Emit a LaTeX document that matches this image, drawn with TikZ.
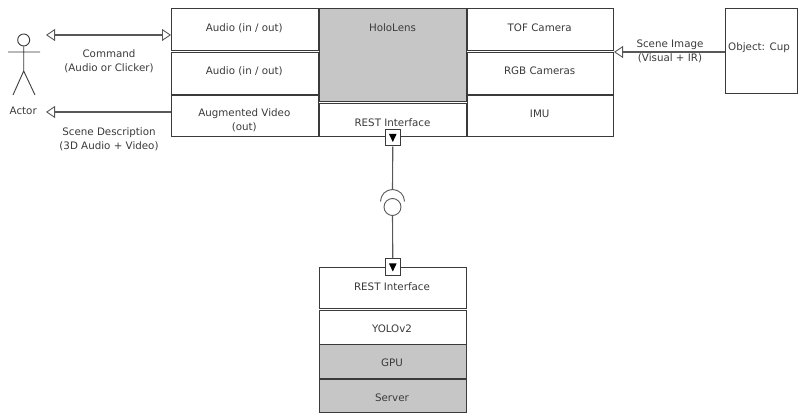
\documentclass[tikz,border=0pt]{standalone}
\usepackage{fontspec}
\setmainfont{DejaVu Sans}
\usetikzlibrary{arrows.meta,calc}
\definecolor{ink}{HTML}{3A3A3A}
\definecolor{fillg}{HTML}{C6C6C6}
\tikzset{
  x=1pt,y=-1pt,
  box/.style={draw=ink,line width=1pt,fill=white,anchor=north west,inner sep=0pt},
  greybox/.style={box,fill=fillg},
  lbl/.style={inner sep=0pt,align=center,font=\fontsize{10.3}{14}\selectfont,text=ink},
  wire/.style={draw=ink!85,line width=1.1pt},
  opentip/.style={-{Triangle[open,length=9pt,width=12pt,fill=white,line width=0.9pt]}},
  dbltip/.style={{Triangle[open,length=9pt,width=12pt,fill=white,line width=0.9pt]}-{Triangle[open,length=9pt,width=12pt,fill=white,line width=0.9pt]}},
  portbox/.style={draw=ink,line width=0.9pt,fill=white,minimum width=15pt,minimum height=16.5pt,inner sep=0pt},
  porttip/.style={fill=black,draw=none},
  figure/.style={draw=ink,line width=0.9pt}
}
\newcommand{\bx}[5]{\node[#1,minimum width=#4pt,minimum height=#5pt] (#2) at #3 {};}
\begin{document}
\begin{tikzpicture}
\useasboundingbox (0,0) rectangle (798,419);
% left column
\bx{box}{audioA}{(171,8.5)}{147}{41.5}
\bx{box}{audioB}{(171,52)}{147}{42}
\bx{box}{augv}{(171,95)}{147}{41.5}
\node[lbl] (audioAtext) at (244.3,28) {Audio (in / out)};
\node[lbl] (audioBtext) at (244.3,71) {Audio (in / out)};
\node[lbl] (augvtext) at (244.3,120.5) {Augmented Video\\(out)};
% middle column
\bx{greybox}{holo}{(319,8.5)}{147}{92.5}
\node[lbl] (holotext) at (392.5,28) {HoloLens};
\bx{box}{resttop}{(319,103.5)}{147}{33}
\node[lbl] (resttoptext) at (392.5,122.7) {REST Interface};
% right column
\bx{box}{tof}{(467,8.5)}{146}{41.5}
\bx{box}{rgb}{(467,52)}{146}{42}
\bx{box}{imu}{(467,95)}{146}{41.5}
\node[lbl] (toftext) at (539.7,27.7) {TOF Camera};
\node[lbl] (rgbtext) at (539.7,70.7) {RGB Cameras};
\node[lbl] (imutext) at (539.7,113.7) {IMU};
% object
\bx{box}{obj}{(724.5,8.5)}{72.5}{85}
\node[lbl] (objtext) at (759,47.5) {Object: Cup};
% server stack
\bx{box}{restlow}{(318.5,267)}{147}{41}
\node[lbl] (restlowtext) at (392,286.7) {REST Interface};
\bx{box}{yolo}{(318.5,310.5)}{147}{33.5}
\bx{greybox}{gpu}{(318.5,344.5)}{147}{33.5}
\bx{greybox}{server}{(318.5,379)}{147}{33.5}
\node[lbl] (yolotext) at (392,329) {YOLOv2};
\node[lbl] (gputext) at (392,363) {GPU};
\node[lbl] (servertext) at (392,397.7) {Server};
% ports
\node[portbox] (porttop) at (392.8,137.7) {};
\node[portbox] (portlow) at (392.8,267) {};
\fill[porttip] (389,134) -- (396.6,134) -- (392.8,142) -- cycle;
\fill[porttip] (389,263.5) -- (396.6,263.5) -- (392.8,271.5) -- cycle;
% lollipop
\node[draw=ink!85,line width=0.9pt,circle,inner sep=0pt,minimum size=17pt] (ball) at (392.5,207) {};
\coordinate (sockettop) at (392.5,189);
\draw[wire] (porttop.south) -- (sockettop);
\draw[draw=ink!85,line width=0.9pt] (380.5,201.5) arc[start angle=-180,end angle=0,radius=12];
\draw[wire] (ball.south) -- (portlow.north);
% actor
\node[figure,circle,minimum size=12pt,inner sep=0pt] (head) at (23.7,40) {};
\coordinate (armL) at (8,52);
\coordinate (armR) at (40,52);
\coordinate (hip) at (23.7,71);
\coordinate (legL) at (13,95);
\coordinate (legR) at (35,95);
\draw[figure] (head.south) -- (hip) (armL) -- (armR) (legL) -- (hip) -- (legR);
\node[lbl] (actor) at (23.2,110.7) {Actor};
% connectors
\coordinate (endCmd) at (46,35);
\coordinate (endScene) at (46,112);
\draw[wire,dbltip] (endCmd) -- (endCmd -| audioA.west);
\draw[wire,opentip] (endScene -| augv.west) -- (endScene);
\draw[wire,opentip] (obj.west |- rgb.north east) -- (rgb.north east);
% labels
\node[lbl] (cmdlabel) at (109,61.7) {Command\\(Audio or Clicker)};
\node[lbl] (scenedesc) at (109,139) {Scene Description\\(3D Audio + Video)};
\node[lbl] (sceneimg) at (670,51) {Scene Image\\(Visual + IR)};
\end{tikzpicture}
\end{document}
